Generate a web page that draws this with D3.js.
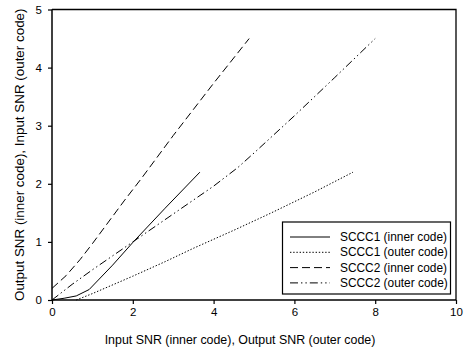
<!DOCTYPE html>
<html>
<head>
<meta charset="utf-8">
<script src="https://cdn.jsdelivr.net/npm/d3@7"></script>
<style>
  html, body { margin: 0; padding: 0; background: #fff; }
  svg { display: block; font-family: "Liberation Sans", Arial, sans-serif; }
</style>
</head>
<body>
<svg id="chart" width="469" height="356"></svg>
<script>
// EXIT-style transfer curves for two serially concatenated codes
const xTicks = [0, 2, 4, 6, 8, 10];
const yTicks = [0, 1, 2, 3, 4, 5];

const scccInner1 = [[0, 0], [0.3, 0.03], [0.6, 0.07], [0.92, 0.18], [1.5, 0.6], [2, 0.99], [2.8, 1.58], [3.66, 2.2]];
const scccOuter1 = [[0.6, 0], [1, 0.11], [2, 0.41], [2.8, 0.66], [3.5, 0.89], [4.5, 1.2], [5.4, 1.49], [6.5, 1.86], [7.45, 2.2]];
const scccInner2 = [[0, 0.2], [0.35, 0.42], [0.7, 0.7], [1, 0.97], [1.8, 1.72], [2.2, 2.08], [3, 2.83], [4, 3.73], [4.88, 4.5]];
const scccOuter2 = [[0, 0], [0.5, 0.27], [1, 0.52], [1.5, 0.76], [2, 1.0], [3, 1.48], [4, 1.96], [4.6, 2.28], [5, 2.53], [6, 3.17], [7, 3.83], [8, 4.5]];

const seriesNames = ["SCCC1 (inner code)", "SCCC1 (outer code)", "SCCC2 (inner code)", "SCCC2 (outer code)"];
const seriesData = [scccInner1, scccOuter1, scccInner2, scccOuter2];
const dashes = [null, "1.4,1.8", "8,4", "8,3,1.4,3,1.4,3"];

const xLabel = "Input SNR (inner code), Output SNR (outer code)";
const yLabel = "Output SNR (inner code), Input SNR (outer code)";

const svg = d3.select("#chart");
const plotLeft = 52, plotRight = 456, plotTop = 9.5, plotBottom = 300;

const x = d3.scaleLinear().domain([0, 10]).range([plotLeft, plotRight]);
const y = d3.scaleLinear().domain([0, 5]).range([plotBottom, plotTop]);

// frame (top and right edges)
svg.append("path")
  .attr("d", `M${plotLeft},${plotTop}H${plotRight}V${plotBottom}`)
  .attr("fill", "none").attr("stroke", "#000").attr("stroke-width", 1.3);

// curves
const line = d3.line().x(d => x(d[0])).y(d => y(d[1]));
seriesData.forEach((data, i) => {
  svg.append("path")
    .datum(data)
    .attr("d", line)
    .attr("fill", "none")
    .attr("stroke", "#000")
    .attr("stroke-width", 1)
    .attr("stroke-dasharray", dashes[i]);
});

// axes
const xAxis = svg.append("g")
  .attr("transform", `translate(0,${plotBottom})`)
  .call(d3.axisBottom(x).tickValues(xTicks).tickSize(4).tickPadding(4).tickFormat(d3.format("d")));
const yAxis = svg.append("g")
  .attr("transform", `translate(${plotLeft},0)`)
  .call(d3.axisLeft(y).tickValues(yTicks).tickSize(4).tickPadding(6).tickFormat(d3.format("d")));

[xAxis, yAxis].forEach(g => {
  g.select(".domain").attr("stroke", "#000").attr("stroke-width", 1.5);
  g.selectAll(".tick line").attr("stroke", "#000").attr("stroke-width", 1.2);
  g.selectAll(".tick text").attr("fill", "#000").style("font-size", "11.5px")
    .style("font-family", "'Liberation Sans', Arial, sans-serif");
});
xAxis.select(".domain").attr("d", `M${plotLeft},0H${plotRight}`);
yAxis.select(".domain").attr("d", `M0,${plotBottom}V${plotTop}`);

// axis titles
svg.append("text")
  .attr("x", 240).attr("y", 344)
  .attr("text-anchor", "middle")
  .style("font-size", "12.4px")
  .text(xLabel);

svg.append("text")
  .attr("transform", `translate(23.5,${(plotTop + plotBottom) / 2}) rotate(-90)`)
  .attr("text-anchor", "middle")
  .style("font-size", "13.4px")
  .text(yLabel);

// legend
const legend = svg.append("g");
legend.append("rect")
  .attr("x", 282.5).attr("y", 222).attr("width", 168).attr("height", 72)
  .attr("fill", "#fff").attr("stroke", "#000").attr("stroke-width", 1.2);

seriesNames.forEach((name, i) => {
  const yy = 237 + i * 15.3;
  legend.append("line")
    .attr("x1", 290).attr("x2", 330).attr("y1", yy).attr("y2", yy)
    .attr("stroke", "#000").attr("stroke-width", 1)
    .attr("stroke-dasharray", dashes[i]);
  legend.append("text")
    .attr("x", 340).attr("y", yy + 4)
    .style("font-size", "11.9px")
    .text(name);
});
</script>
</body>
</html>
